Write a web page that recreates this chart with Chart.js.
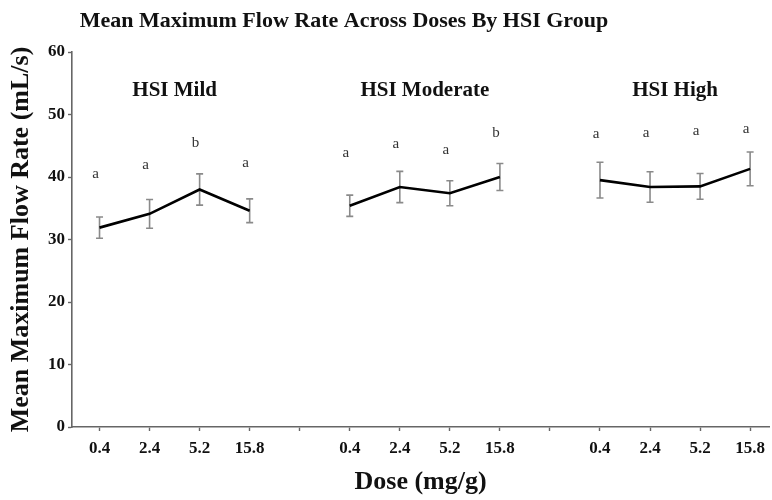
<!DOCTYPE html>
<html>
<head>
<meta charset="UTF-8">
<title>Mean Maximum Flow Rate</title>
<script src="https://cdn.jsdelivr.net/npm/chart.js@4.4.0/dist/chart.umd.min.js"></script>
<style>
  html, body { margin: 0; padding: 0; background: #fff; overflow: hidden; }
  #wrap { width: 772px; height: 500px; }
</style>
</head>
<body>
<div id="wrap"><canvas id="grafico" width="772" height="500"></canvas></div>
<script>
// data
const groups = ['HSI Mild', 'HSI Moderate', 'HSI High'];
const doses = ['0.4', '2.4', '5.2', '15.8'];

const mildMean = [31.9, 34.1, 38.0, 34.6];
const mildErr = [1.7, 2.3, 2.5, 1.9];
const mildLetters = ['a', 'a', 'b', 'a'];
const mildLetterY = [40.5, 41.9, 45.5, 42.2];

const moderateMean = [35.4, 38.4, 37.4, 40.0];
const moderateErr = [1.7, 2.5, 2.0, 2.15];
const moderateLetters = ['a', 'a', 'a', 'b'];
const moderateLetterY = [43.8, 45.2, 44.3, 47.1];

const highMean = [39.5, 38.4, 38.5, 41.3];
const highErr = [2.85, 2.45, 2.05, 2.7];
const highLetters = ['a', 'a', 'a', 'a'];
const highLetterY = [46.8, 47.1, 47.4, 47.7];

const yTicks = [0, 10, 20, 30, 40, 50, 60];
const groupLabelY = 53.9;

const means = [mildMean, moderateMean, highMean];
const errs = [mildErr, moderateErr, highErr];
const letters = [mildLetters, moderateLetters, highLetters];
const letterY = [mildLetterY, moderateLetterY, highLetterY];

// x position of a dose inside a group (one empty slot between groups)
function posX(g, i) { return g * (doses.length + 1) + i; }

const tickLabels = [];
for (let g = 0; g < groups.length; g++) {
    for (let i = 0; i < doses.length; i++) tickLabels[posX(g, i)] = doses[i];
    if (g < groups.length - 1) tickLabels[posX(g, doses.length)] = '';
}

const serif = "'Liberation Serif', 'DejaVu Serif', serif";

const datasets = means.map((m, g) => ({
    label: groups[g],
    data: m.map((v, i) => ({ x: posX(g, i), y: v })),
    borderColor: '#000',
    borderWidth: 2.6,
    pointRadius: 0,
    tension: 0,
    fill: false
}));

const extras = {
    id: 'extras',
    beforeDatasetsDraw(chart) {
        const ctx = chart.ctx;
        const xs = chart.scales.x, ys = chart.scales.y;
        ctx.save();
        ctx.strokeStyle = '#8a8a8a';
        ctx.lineWidth = 1.6;
        means.forEach((m, g) => {
            m.forEach((v, i) => {
                const px = xs.getPixelForValue(posX(g, i));
                const top = ys.getPixelForValue(v + errs[g][i]);
                const bot = ys.getPixelForValue(v - errs[g][i]);
                ctx.beginPath();
                ctx.moveTo(px, top); ctx.lineTo(px, bot);
                ctx.moveTo(px - 3.5, top); ctx.lineTo(px + 3.5, top);
                ctx.moveTo(px - 3.5, bot); ctx.lineTo(px + 3.5, bot);
                ctx.stroke();
            });
        });
        ctx.restore();
    },
    afterDraw(chart) {
        const ctx = chart.ctx;
        const xs = chart.scales.x, ys = chart.scales.y;
        ctx.save();
        ctx.textAlign = 'center';
        ctx.textBaseline = 'middle';
        // chart title
        ctx.fillStyle = '#111';
        ctx.font = 'bold 22px ' + serif;
        ctx.fillText('Mean Maximum Flow Rate Across Doses By HSI Group', 344, 21);
        // group names
        ctx.font = 'bold 21px ' + serif;
        groups.forEach((name, g) => {
            const cx = (xs.getPixelForValue(posX(g, 1)) + xs.getPixelForValue(posX(g, 2))) / 2;
            ctx.fillText(name, cx, ys.getPixelForValue(groupLabelY));
        });
        // significance letters
        ctx.fillStyle = '#333';
        ctx.font = '15px ' + serif;
        letters.forEach((ls, g) => {
            ls.forEach((l, i) => {
                ctx.fillText(l, xs.getPixelForValue(posX(g, i)) - 4, ys.getPixelForValue(letterY[g][i]));
            });
        });
        ctx.restore();
    }
};

new Chart(document.getElementById('grafico'), {
    type: 'line',
    data: { datasets: datasets },
    options: {
        responsive: false,
        animation: false,
        layout: { padding: { top: 52, left: 0, right: 0, bottom: 0 } },
        plugins: { legend: { display: false }, tooltip: { enabled: false } },
        scales: {
            x: {
                type: 'linear',
                min: -0.55,
                max: 13.38,
                afterBuildTicks: (s) => { s.ticks = tickLabels.map((t, i) => ({ value: i })); },
                afterFit: (s) => { s.height = 73; },
                ticks: {
                    autoSkip: false,
                    maxRotation: 0,
                    padding: 7,
                    color: '#111',
                    font: { family: serif, size: 17, weight: 'bold' },
                    callback: (v) => tickLabels[v]
                },
                grid: { drawOnChartArea: false, tickLength: 4, color: '#666', tickWidth: 1.4 },
                border: { color: '#666', width: 1.6 },
                title: {
                    display: true,
                    text: 'Dose (mg/g)',
                    color: '#111',
                    font: { family: serif, size: 26, weight: 'bold' },
                    padding: { top: 0, bottom: 2 }
                }
            },
            y: {
                min: 0,
                max: 60,
                afterBuildTicks: (s) => { s.ticks = yTicks.map(v => ({ value: v })); },
                afterFit: (s) => { s.width = 72; },
                ticks: {
                    padding: 3,
                    color: '#111',
                    font: { family: serif, size: 17, weight: 'bold' }
                },
                grid: { drawOnChartArea: false, tickLength: 4, color: '#666', tickWidth: 1.4 },
                border: { color: '#666', width: 1.6 },
                title: {
                    display: true,
                    text: 'Mean Maximum Flow Rate (mL/s)',
                    color: '#111',
                    font: { family: serif, size: 26, weight: 'bold' },
                    padding: { top: 6, bottom: 0 }
                }
            }
        }
    },
    plugins: [extras]
});
</script>
</body>
</html>
